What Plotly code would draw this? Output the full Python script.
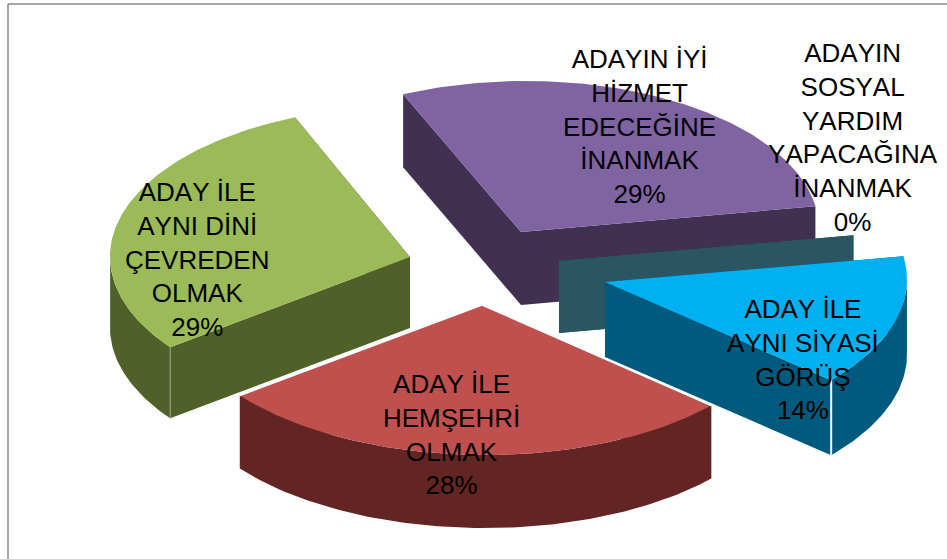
import math
import plotly.graph_objects as go

# --- data ---
categories = [
    "ADAYIN İYİ<br>HİZMET<br>EDECEĞİNE<br>İNANMAK",
    "ADAYIN<br>SOSYAL<br>YARDIM<br>YAPACAĞINA<br>İNANMAK",
    "ADAY İLE<br>AYNI SİYASİ<br>GÖRÜŞ",
    "ADAY İLE<br>HEMŞEHRİ<br>OLMAK",
    "ADAY İLE<br>AYNI DİNİ<br>ÇEVREDEN<br>OLMAK",
]
percent_values = [29, 0, 14, 28, 29]

# --- style / layout of the exploded 3-D pie ---
top_colors = ["#8064A2", "#2A5562", "#00B0F0", "#C0504D", "#9BBB59"]
side_colors = ["#403152", "#2A5562", "#005A7D", "#632523", "#4F6128"]
apex_px = [(521, 232), (559, 261), (605, 282), (482, 305), (410, 257)]
radius_x = [298, 298, 302, 306, 300]
radius_y = [151, 151, 151, 150, 151]
tilt = [-2.5, -2.5, -2.5, 1.5, 2.5]
shear = [0, 0, 0, 0, 4]
depth = [73, 72, 75, 73, 71]
label_px = [(639, 126), (853, 137), (803, 359), (451, 434), (197, 259)]
start_angle = 336.7
draw_order = [0, 1, 2, 4, 3]
W, H = 947, 559

# sweep of every slice, clockwise from the top, from the values
total = sum(percent_values)
angles = []
cur = start_angle
for v in percent_values:
    angles.append((cur, cur + 360 * v / total))
    cur += 360 * v / total


def project(i, th):
    t = math.radians(th)
    return (apex_px[i][0] + radius_x[i] * math.sin(t) + shear[i] * math.cos(t),
            apex_px[i][1] - radius_y[i] * math.cos(t) + tilt[i] * math.sin(t))


def polygon(fig, xs, ys, color):
    fig.add_trace(go.Scatter(x=xs, y=ys, mode="lines", fill="toself", fillcolor=color,
                             line=dict(width=0, color=color), hoverinfo="skip", showlegend=False))


fig = go.Figure()
for i in draw_order:
    a0, a1 = angles[i]
    ax, ay = apex_px[i]
    d = depth[i]
    n = max(2, int(abs(a1 - a0)) + 2)
    sweep = [a0 + (a1 - a0) * k / (n - 1) for k in range(n)]
    arc = [project(i, th) for th in sweep]
    # outer wall: one band over the part of the rim that faces the viewer
    front = [p for th, p in zip(sweep, arc) if math.cos(math.radians(th)) < 0.02]
    if len(front) > 1:
        polygon(fig,
                [p[0] for p in front] + [p[0] for p in reversed(front)] + [front[0][0]],
                [p[1] for p in front] + [p[1] + d for p in reversed(front)] + [front[0][1]],
                side_colors[i])
    # two radial walls
    for p in (arc[0], arc[-1]):
        polygon(fig, [ax, p[0], p[0], ax, ax], [ay, p[1], p[1] + d, ay + d, ay], side_colors[i])
    # top face
    if percent_values[i] > 0:
        polygon(fig, [ax] + [p[0] for p in arc] + [ax], [ay] + [p[1] for p in arc] + [ay], top_colors[i])


# light edges
def edge(xs, ys, color, width):
    fig.add_trace(go.Scatter(x=xs, y=ys, mode="lines", line=dict(color=color, width=width),
                             hoverinfo="skip", showlegend=False))


p = project(3, angles[3][0]); q = project(3, angles[3][1])
edge([p[0], apex_px[3][0], q[0]], [p[1], apex_px[3][1], q[1]], "white", 1.5)
p = project(2, angles[2][1])
edge([p[0], p[0]], [p[1], p[1] + depth[2]], "white", 2)
p = project(4, angles[4][0])
edge([p[0], p[0]], [p[1], p[1] + depth[4]], "#9aa58a", 1)

for i, cat in enumerate(categories):
    fig.add_annotation(x=label_px[i][0], y=label_px[i][1], xref="x", yref="y",
                       text=f"{cat}<br>{percent_values[i]}%", showarrow=False,
                       align="center", xanchor="center", yanchor="middle",
                       font=dict(family="Liberation Sans", size=26, color="black"))

fig.add_shape(type="line", xref="x", yref="y", x0=8, x1=8, y0=4, y1=559, line=dict(color="#888888", width=1.5))
fig.add_shape(type="line", xref="x", yref="y", x0=8, x1=947, y0=4, y1=4, line=dict(color="#888888", width=1.5))

fig.update_layout(width=W, height=H, margin=dict(l=0, r=0, t=0, b=0),
                  paper_bgcolor="white", plot_bgcolor="white", showlegend=False,
                  xaxis=dict(range=[0, W], visible=False, fixedrange=True),
                  yaxis=dict(range=[H, 0], visible=False, fixedrange=True))
fig.write_html("out.html", config={"displayModeBar": False},
               post_script=("document.body.style.margin='0';document.body.style.overflow='hidden';"
                            "var s=document.createElement('style');"
                            "s.textContent='text{font-kerning:none;}';"
                            "document.head.appendChild(s);"))
